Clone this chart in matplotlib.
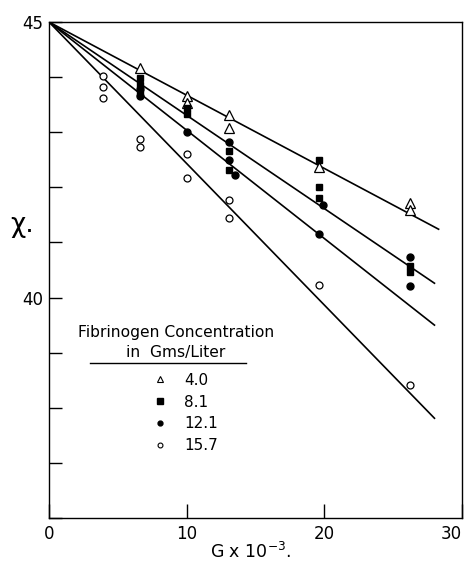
import matplotlib
matplotlib.use("Agg")
import matplotlib.pyplot as plt
from matplotlib.lines import Line2D

plt.rcParams['font.family'] = ['DejaVu Sans']

# Fibrinogen concentrations (g/L) shown in the key
concentrations = ["4.0", "8.1", "12.1", "15.7"]

# Measured chi values at each shear rate G (x 10^-3)
g_40 = [6.6, 10.0, 10.0, 13.1, 13.1, 19.6, 26.2, 26.2]
chi_40 = [44.17, 43.66, 43.53, 43.31, 43.08, 42.37, 41.72, 41.59]

g_81 = [6.6, 6.6, 6.6, 10.0, 10.0, 13.1, 13.1, 19.6, 19.6, 19.6, 26.2, 26.2]
chi_81 = [43.98, 43.85, 43.72, 43.44, 43.33, 42.66, 42.31, 42.50, 42.00, 41.81, 40.58, 40.46]

g_121 = [6.6, 6.6, 10.0, 13.1, 13.1, 13.5, 19.9, 19.6, 26.2, 26.2]
chi_121 = [43.78, 43.66, 43.00, 42.82, 42.50, 42.22, 41.68, 41.15, 40.74, 40.21]

g_157 = [3.9, 3.9, 3.9, 6.6, 6.6, 10.0, 10.0, 13.1, 13.1, 19.6, 26.2]
chi_157 = [44.02, 43.82, 43.62, 42.88, 42.74, 42.60, 42.17, 41.77, 41.44, 40.23, 38.41]

# Fitted lines: all start at (0, 45)
line_start = (0.0, 45.0)
line_end_g = [28.3, 28.0, 28.0, 28.0]
line_end_chi = [41.24, 40.26, 39.50, 37.81]

fig = plt.figure(figsize=(4.69, 5.63), dpi=100)
ax = fig.add_axes([49 / 469, 45 / 563, (462 - 49) / 469, (518 - 22) / 563])

for ge, ce in zip(line_end_g, line_end_chi):
    ax.plot([line_start[0], ge], [line_start[1], ce], color='black', lw=1.2, zorder=2)

ax.plot(g_40, chi_40, ls='none', marker='^', ms=6.5, mfc='white', mec='black', mew=0.9, zorder=3)
ax.plot(g_81, chi_81, ls='none', marker='s', ms=4.8, mfc='black', mec='black', zorder=3)
ax.plot(g_121, chi_121, ls='none', marker='o', ms=5, mfc='black', mec='black', zorder=3)
ax.plot(g_157, chi_157, ls='none', marker='o', ms=5, mfc='white', mec='black', mew=0.9, zorder=3)

ax.set_xlim(0, 30)
ax.set_ylim(36, 45)
ax.set_xticks([0, 10, 20, 30])
ax.set_xticklabels(["0", "10", "20", "30"])
ax.set_yticks([36, 37, 38, 39, 40, 41, 42, 43, 44, 45])
ax.set_yticklabels(["", "", "", "", "40", "", "", "", "", "45"])
ax.tick_params(axis='both', direction='in', length=9, width=1.0, labelsize=12, pad=4)
ax.tick_params(axis='x', length=10, pad=5)
ax.get_xticklabels()[-1].set_horizontalalignment('right')
for s in ax.spines.values():
    s.set_linewidth(1.0)

ax.text(-0.066, 0.59, "χ.", transform=ax.transAxes, fontsize=19, ha='center', va='center')
fig.text(251 / 469, 1 / 563, r"G x 10$^{-3}$.", fontsize=12.5, ha='center', va='bottom')

# Key title with underline
ax.text(9.2, 39.36, "Fibrinogen Concentration", fontsize=11.2, ha='center', va='center')
ax.text(9.2, 39.01, "in  Gms/Liter", fontsize=11.2, ha='center', va='center')
ax.plot([3.0, 14.3], [38.81, 38.81], color='black', lw=1.0)

handles = [
    Line2D([], [], ls='none', marker='^', ms=5, mfc='white', mec='black', mew=0.8),
    Line2D([], [], ls='none', marker='s', ms=4, mfc='black', mec='black'),
    Line2D([], [], ls='none', marker='o', ms=3.5, mfc='black', mec='black'),
    Line2D([], [], ls='none', marker='o', ms=3.5, mfc='white', mec='black', mew=0.8),
]
ax.legend(handles, concentrations, loc='upper left', bbox_to_anchor=(0.254, 0.293),
          frameon=False, fontsize=11, handlelength=0.8, handletextpad=1.2,
          labelspacing=0.45, borderpad=0, borderaxespad=0)

fig.savefig("out.png", dpi=100)
